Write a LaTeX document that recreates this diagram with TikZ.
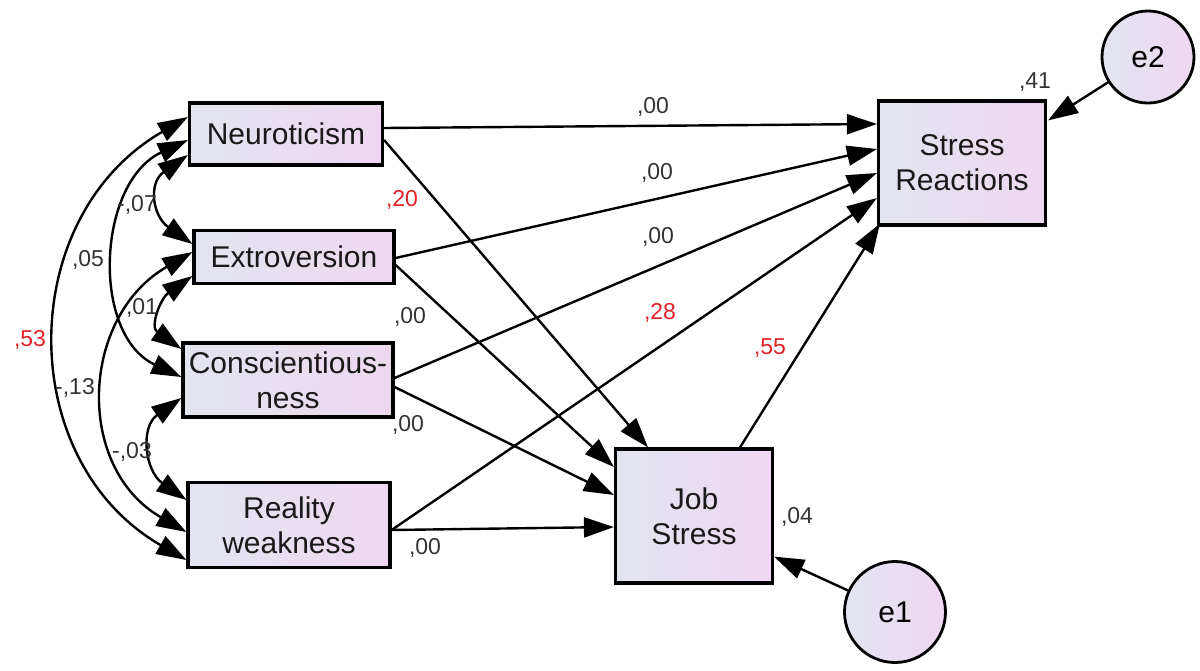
\documentclass[tikz,border=0pt]{standalone}
\usepackage{fontspec}
\setmainfont{Liberation Sans}
\usetikzlibrary{arrows.meta,positioning}
\definecolor{boxleft}{RGB}{226,229,240}
\definecolor{boxright}{RGB}{238,216,240}
\definecolor{sigred}{RGB}{228,34,40}

\begin{document}
\begin{tikzpicture}
[x=0.5pt,y=0.5pt,font=\fontsize{15}{17.5}\selectfont,
      >={Triangle[length=15pt,width=10pt]},
      obsvar/.style={draw,line width=1.6pt,left color=boxleft,right color=boxright,
      align=center,inner sep=0pt,text=black!90},
      errvar/.style={draw,circle,line width=1.4pt,left color=boxleft,right color=boxright,
      inner sep=0pt},
      reg/.style={->,line width=1.2pt},
      cov/.style={<->,line width=1.2pt},
      est/.style={font=\fontsize{11.5}{13}\selectfont,text=black!80},
      sig/.style={est,text=sigred}]
 \useasboundingbox (0,0) rectangle (1200,-670);
 % observed variables
 \node[obsvar,minimum width=96.5pt,minimum height=31pt] (neuro) at (286,-134) {Neuroticism};
 \node[obsvar,minimum width=100pt,minimum height=26.5pt] (extro) at (294,-257) {Extroversion};
 \node[obsvar,minimum width=105pt,minimum height=37pt] (consc) at (288,-380) {Conscientious-\\ness};
 \node[obsvar,minimum width=101pt,minimum height=42.5pt] (real) at (289,-525) {Reality\\weakness};
 \node[obsvar,minimum width=78.5pt,minimum height=67pt] (job) at (694,-516) {Job\\Stress};
 \node[obsvar,minimum width=83.5pt,minimum height=62pt] (react) at (962,-163) {Stress\\Reactions};
 % residuals
 \node[errvar,minimum size=50.5pt] (e1) at (895,-612) {e1};
 \node[errvar,minimum size=46pt] (e2) at (1148,-57) {e2};

 % paths to Stress Reactions
 \draw[reg] ([shift={(0,6)}]neuro.east) -- ([shift={(0,39)}]react.west);
 \draw[reg] ([shift={(0,-1)}]extro.east) -- ([shift={(0,14)}]react.west);
 \draw[reg] ([shift={(0,2)}]consc.east) -- ([shift={(0,-10)}]react.west);
 \draw[reg] ([shift={(0,-5)}]real.east) -- ([shift={(0,-35)}]react.west);
 \draw[reg] ([shift={(46,0)}]job.north) -- ([shift={(3,3)}]react.south west);
 % paths to Job Stress
 \draw[reg] ([shift={(0,-6)}]neuro.east) -- ([shift={(-46,0)}]job.north);
 \draw[reg] ([shift={(0,-8)}]extro.east) -- ([shift={(0,49)}]job.west);
 \draw[reg] ([shift={(0,-7)}]consc.east) -- ([shift={(0,21)}]job.west);
 \draw[reg] ([shift={(0,-5)}]real.east) -- ([shift={(0,-11)}]job.west);
 \draw[reg] (e1) -- ([shift={(0,28)}]job.south east);
 \draw[reg] (e2) -- ([shift={(1,-21)}]react.north east);

 % covariances
 \draw[cov] ([shift={(0,17)}]neuro.west) to[out=210,in=150,looseness=1.15] ([shift={(0,-35)}]real.west);
 \draw[cov] ([shift={(0,-6)}]neuro.west) to[out=205,in=155,looseness=1.08] ([shift={(0,3)}]consc.west);
 \draw[cov] ([shift={(0,-21)}]neuro.west) to[out=215,in=145,looseness=1.4] ([shift={(0,13)}]extro.west);
 \draw[cov] ([shift={(0,5)}]extro.west) to[out=210,in=150,looseness=1.18] ([shift={(0,-7)}]real.west);
 \draw[cov] ([shift={(0,-19)}]extro.west) to[out=215,in=145,looseness=1.35] ([shift={(0,31)}]consc.west);
 \draw[cov] ([shift={(0,-18)}]consc.west) to[out=215,in=145,looseness=1.27] ([shift={(0,25)}]real.west);

 % estimates
 \node[est] (b1) at (653,-107) {,00};
 \node[est] (b2) at (657,-173) {,00};
 \node[est] (b3) at (658,-237) {,00};
 \node[sig] (b4) at (660,-313) {,28};
 \node[sig] (b5) at (770,-348) {,55};
 \node[sig] (g1) at (402,-200) {,20};
 \node[est] (g2) at (410,-317) {,00};
 \node[est] (g3) at (408,-425) {,00};
 \node[est] (g4) at (425,-548) {,00};
 \node[est] (r1) at (797,-517) {,04};
 \node[est] (r2) at (1035,-82) {,41};
 \node[sig] (c1) at (30,-340) {,53};
 \node[est] (c2) at (88,-260) {,05};
 \node[est] (c3) at (137,-205) {-,07};
 \node[est] (c4) at (142,-308) {,01};
 \node[est] (c5) at (75,-388) {-,13};
 \node[est] (c6) at (132,-452) {-,03};
\end{tikzpicture}
\end{document}
